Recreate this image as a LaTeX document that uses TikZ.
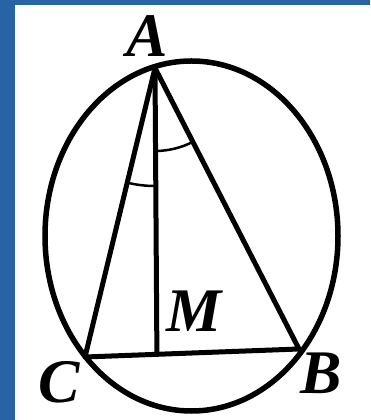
\documentclass[tikz,border=0pt]{standalone}
\usepackage{fontspec}
\setmainfont{Liberation Serif}
\usetikzlibrary{angles,calc}
\definecolor{bgblue}{RGB}{40,100,165}
\tikzset{
  lbl/.style={font=\fontsize{62}{62}\selectfont\bfseries\itshape, inner sep=0pt, text=black},
  seg/.style={line width=5pt, line cap=round, line join=round},
  arcmark/.style={draw, line width=2.5pt}
}
\begin{document}
\begin{tikzpicture}[x=1pt,y=1pt]
\useasboundingbox (0,0) rectangle (370,420);
\fill[bgblue] (0,0) rectangle (370,420);
\fill[white] (15,0) rectangle (370,415);
% points
\coordinate (A) at (155,352);
\coordinate (C) at (85,63);
\coordinate (B) at (299,71);
\coordinate (H) at ($(C)!0.336!(B)$);
\coordinate (O) at (191.5,184);
\draw[line width=5.5pt] (O) ellipse [x radius=146.5, y radius=175];
\draw[seg] (C) -- (A) -- (B) -- cycle;
\draw[seg] (A) -- (H);
\pic[arcmark, angle radius=118] {angle=C--A--H};
\pic[arcmark, angle radius=83] {angle=H--A--B};
\node[lbl] (lA) at (147,384) {A};
\node[lbl] (lC) at (59,38) {C};
\node[lbl] (lB) at (321,47) {B};
\node[lbl] (lM) at (194,109) {M};
\end{tikzpicture}
\end{document}
